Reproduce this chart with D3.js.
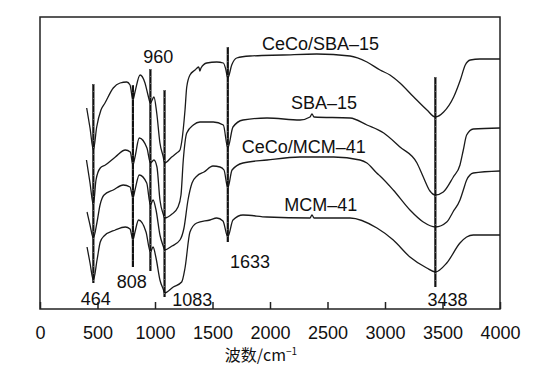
<!DOCTYPE html>
<html><head><meta charset="utf-8">
<script src="https://cdn.jsdelivr.net/npm/d3@7/dist/d3.min.js"></script>
<style>body{margin:0;background:#fff}svg{display:block}</style>
</head><body>
<svg id="chart" width="537" height="369"></svg>
<script>
// x ticks (wavenumber, cm^-1)
const xTicks = [0, 500, 1000, 1500, 2000, 2500, 3000, 3500, 4000];

// Series names
const seriesNames = ["CeCo/SBA–15", "SBA–15", "CeCo/MCM–41", "MCM–41"];

// CeCo/SBA-15 (top) : wavenumber / relative transmittance (a.u., offset)
const wnCeCoSBA = [406,435,464,493,530,565,637,696,754,783,808,826,870,913,939,960,991,1015,1043,1072,1083,1145,1189,1217,1232,1261,1276,1304,1348,1380,1391,1400,1450,1537,1594,1615,1633,1667,1710,1826,2113,2406,2696,2843,2957,3043,3130,3250,3365,3438,3510,3597,3655,3698,3742,3826,4000];
const tCeCoSBA  = [201,181,159,182,199,206,221,226,227,224,209,217,234,226,214,206,212,196,166,152,146,152,156,159,167,199,222,234,239,242,238,241,246,247,246,240,231,244,251,253,254,255,253,247,239,234,226,212,199,192,197,212,229,244,249,250,250];

// SBA-15
const wnSBA = [404,435,464,487,524,568,655,742,785,808,826,863,930,960,991,1017,1043,1074,1083,1148,1200,1226,1246,1276,1333,1391,1507,1594,1633,1678,1765,1974,2261,2348,2365,2383,2696,2843,2989,3130,3278,3333,3391,3438,3507,3594,3652,3681,3710,3768,4000];
const tSBA  = [149,126,104,129,141,144,152,159,157,144,152,171,161,146,149,142,109,94,91,95,102,114,149,176,184,187,187,184,161,182,189,191,189,192,195,192,191,184,176,162,146,132,118,114,117,132,144,159,174,180,181];

// CeCo/MCM-41
const wnCeCoMCM = [409,435,464,496,522,557,637,724,783,808,826,863,928,960,983,1009,1043,1074,1083,1148,1217,1252,1287,1322,1365,1426,1504,1565,1600,1633,1670,1765,1974,2261,2554,2783,2843,2928,2957,3072,3217,3333,3438,3537,3591,3652,3681,3710,3768,4000];
const tCeCoMCM  = [97,84,71,87,104,114,119,124,122,111,119,134,126,104,109,99,74,62,59,63,69,81,109,126,133,137,143,142,139,121,139,146,149,152,152,149,146,136,133,119,99,87,82,87,97,109,119,129,136,138];

// MCM-41 (bottom)
const wnMCM = [409,435,464,496,524,557,655,742,783,808,826,857,922,960,983,1009,1043,1074,1083,1159,1232,1261,1304,1363,1478,1537,1591,1633,1678,1765,1974,2348,2365,2383,2696,2930,3072,3217,3363,3438,3537,3652,3710,3768,4000];
const tMCM  = [62,46,29,49,67,73,79,82,80,69,77,89,77,57,62,51,29,19,16,22,27,41,77,86,89,91,88,72,89,94,92,91,94,91,91,81,69,52,41,37,46,66,72,74,74];

// Marker lines: wavenumber, top value, bottom value
const markWn  = [464, 808, 960, 1083, 1633, 3438];
const markTop = [225, 224, 240, 219, 262, 232];
const markBot = [26, 42, 38, 12, 67, 22];

// Peak labels: text, wavenumber (centre), value (baseline)
const peakText = ["464", "808", "960", "1083", "1633", "3438"];
const peakLabWn = [484, 797, 1029, 1324, 1826, 3543];
const peakLabT  = [4, 21, 246, 3, 41, 3];

// Series labels: wavenumber (start), value (baseline)
const serLabWn = [1930, 2183, 1754, 2124];
const serLabT  = [259, 200, 156, 98];

const svg = d3.select("#chart");
const L = 40, R = 500, T = 17, B = 309;
const x = d3.scaleLinear().domain([0, 4000]).range([L, R]);
const y = d3.scaleLinear().domain([0, 292]).range([B, T]);

const fontLat = "'Liberation Sans', Arial, Helvetica, sans-serif";

// frame
svg.append("rect").attr("x", L).attr("y", T).attr("width", R - L).attr("height", B - T)
  .attr("fill", "none").attr("stroke", "#222").attr("stroke-width", 1.5);

// axis
const ax = svg.append("g").attr("transform", `translate(0,${B})`)
  .call(d3.axisBottom(x).tickValues(xTicks).tickSizeInner(-7).tickSizeOuter(0).tickPadding(17).tickFormat(d3.format("d")));
ax.select(".domain").remove();
ax.selectAll(".tick line").attr("stroke", "#222").attr("stroke-width", 1.5);
ax.selectAll(".tick text").attr("fill", "#111").style("font-family", fontLat).style("font-size", "18px");

// axis title
const title = svg.append("text").attr("x", 261).attr("y", 361).attr("text-anchor", "middle")
  .attr("fill", "#111").style("font-family", "'Noto Sans CJK SC', " + fontLat).style("font-size", "16px");
title.append("tspan").text("波数/cm");
title.append("tspan").attr("dy", -6).style("font-size", "10px").text("−1");

// series
const series = [
  {wn: wnCeCoSBA, t: tCeCoSBA},
  {wn: wnSBA, t: tSBA},
  {wn: wnCeCoMCM, t: tCeCoMCM},
  {wn: wnMCM, t: tMCM}
];
const line = d3.line().x(d => x(d[0])).y(d => y(d[1])).curve(d3.curveMonotoneX);
series.forEach(s => {
  svg.append("path").datum(s.wn.map((w, i) => [w, s.t[i]]))
    .attr("d", line).attr("fill", "none").attr("stroke", "#1a1a1a").attr("stroke-width", 1.3)
    .attr("stroke-linejoin", "round");
});

// marker lines
markWn.forEach((w, i) => {
  svg.append("line").attr("x1", x(w)).attr("x2", x(w)).attr("y1", y(markTop[i])).attr("y2", y(markBot[i]))
    .attr("stroke", "#111").attr("stroke-width", 2.2);
  svg.append("line").attr("x1", x(w)).attr("x2", x(w)).attr("y1", y(markTop[i])).attr("y2", y(markBot[i]))
    .attr("stroke", "#fff").attr("stroke-width", 0.5).attr("stroke-dasharray", "1 6").attr("opacity", 0.8);
});

// peak labels
peakText.forEach((t, i) => {
  svg.append("text").attr("x", x(peakLabWn[i])).attr("y", y(peakLabT[i])).attr("text-anchor", "middle")
    .attr("fill", "#111").style("font-family", fontLat).style("font-size", "18px").text(t);
});

// series labels
seriesNames.forEach((t, i) => {
  svg.append("text").attr("x", x(serLabWn[i])).attr("y", y(serLabT[i]))
    .attr("fill", "#111").style("font-family", fontLat).style("font-size", "18px").text(t);
});
</script>
</body></html>
